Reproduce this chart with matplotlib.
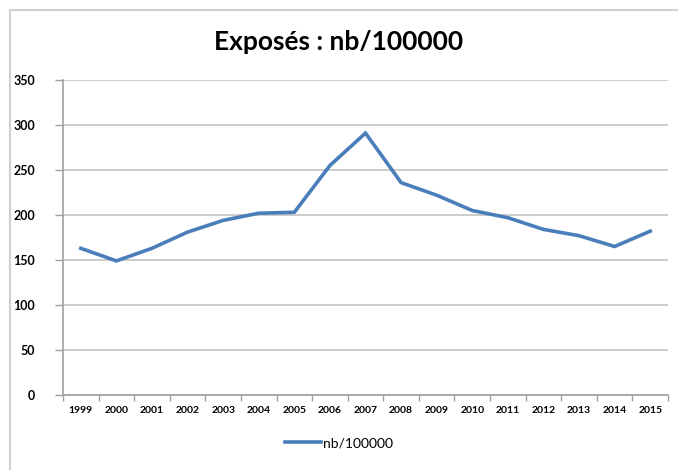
import matplotlib
matplotlib.use("Agg")
import matplotlib.pyplot as plt
from matplotlib.patches import Rectangle
import numpy as np

years = ["1999", "2000", "2001", "2002", "2003", "2004", "2005", "2006", "2007",
         "2008", "2009", "2010", "2011", "2012", "2013", "2014", "2015"]
values = [163, 149, 163, 181, 194, 202, 203, 255, 291,
          236, 222, 205, 197, 184, 177, 165, 182]
yticks = [0, 50, 100, 150, 200, 250, 300, 350]
title = "Exposés : nb/100000"
series_name = "nb/100000"

plt.rcParams['font.family'] = ['Lato', 'DejaVu Sans']

fig = plt.figure(figsize=(6.78, 4.70), dpi=100)
W, H = 678, 470
ax = fig.add_axes([63 / W, 1 - 395 / H, (668 - 63) / W, (395 - 80) / H])

# outer chart frame
fig.patches.append(Rectangle((10 / W, -0.05), 1.2, 1 - 10 / H + 0.05,
                             transform=fig.transFigure, fill=False,
                             edgecolor="#d0d0d0", linewidth=1.5, zorder=0))

x = np.arange(len(years))
ax.plot(x, values, color="#4a7ebb", linewidth=2.6, label=series_name,
        solid_joinstyle="miter", zorder=3)

ax.set_xlim(-0.5, len(years) - 0.5)
ax.set_ylim(0, 350)
ax.set_yticks(yticks)
ax.set_yticklabels([str(v) for v in yticks], fontsize=9, fontweight="bold")
ax.set_xticks(x)
ax.set_xticklabels(years, fontsize=7.5, fontweight="bold")
ax.tick_params(axis="x", length=0, pad=8)
ax.set_xticks(np.arange(-0.5, len(years), 1), minor=True)
ax.tick_params(axis="x", which="minor", length=4, color="#a0a0a0", width=1)
ax.tick_params(axis="y", length=6, color="#a0a0a0", width=1, pad=14)

ax.yaxis.grid(True, color="#cccccc", linewidth=1.4)
ax.set_axisbelow(True)
for s in ["top", "right"]:
    ax.spines[s].set_visible(False)
ax.spines["left"].set_color("#a0a0a0")
ax.spines["bottom"].set_color("#a0a0a0")
ax.spines["left"].set_linewidth(1.2)
ax.spines["bottom"].set_linewidth(1.2)

fig.text(0.5, 1 - 42 / H, title, ha="center", va="center",
         fontsize=19, fontweight="bold")

fig.legend(loc="center", bbox_to_anchor=(0.5, 1 - 443 / H), frameon=False,
           fontsize=10, handlelength=2.6, handletextpad=0.2)

fig.savefig("out.png", dpi=100)
